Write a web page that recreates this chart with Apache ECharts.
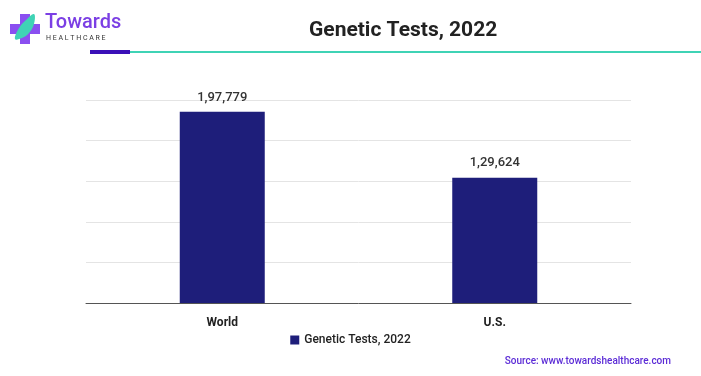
<!doctype html>
<html lang="en">
<head>
<meta charset="UTF-8">
<script src="https://cdn.jsdelivr.net/npm/echarts@6/dist/echarts.min.js"></script>
<title>Genetic Tests, 2022</title>
<style>
  html, body { margin: 0; padding: 0; background: #fff; }
  #chart { width: 701px; height: 376px; }
</style>
</head>
<body>
<div id="chart"></div>
<script>
// data
var categories = ['World', 'U.S.'];
var seriesName = 'Genetic Tests, 2022';
var values = [197779, 129624];

// indian style grouping, 1,97,779
function fmtIN(n) {
    var s = String(n);
    if (s.length <= 3) return s;
    var last3 = s.slice(-3);
    var rest = s.slice(0, -3);
    rest = rest.replace(/\B(?=(\d{2})+(?!\d))/g, ',');
    return rest + ',' + last3;
}

var chart = echarts.init(document.getElementById('chart'));

var option = {
    backgroundColor: '#fff',
    animation: false,
    textStyle: { fontFamily: 'Roboto' },
    title: {
        text: 'Genetic Tests, 2022',
        left: 304,
        top: 15,
        textStyle: { fontSize: 21, fontWeight: 'bold', color: '#222' }
    },
    grid: { left: 86, right: 70, top: 100, bottom: 73, containLabel: false },
    legend: {
        bottom: 25,
        left: 'center',
        itemWidth: 9,
        itemHeight: 9,
        icon: 'rect',
        textStyle: { fontSize: 12, fontWeight: 500, color: '#222' },
        data: [seriesName]
    },
    xAxis: {
        type: 'category',
        data: categories,
        axisLine: { lineStyle: { color: '#555', width: 1 } },
        axisTick: { show: false },
        axisLabel: { fontSize: 12, fontWeight: 'bold', color: '#222', margin: 14 }
    },
    yAxis: {
        type: 'value',
        min: 0,
        max: 210000,
        interval: 42000,
        axisLabel: { show: false },
        axisLine: { show: false },
        axisTick: { show: false },
        splitLine: { lineStyle: { color: '#e4e4e4' } }
    },
    series: [{
        name: seriesName,
        type: 'bar',
        data: values,
        barWidth: 85,
        itemStyle: { color: '#1e1e7a' },
        label: {
            show: true,
            position: 'top',
            distance: 8,
            fontSize: 13,
            fontWeight: 500,
            color: '#333',
            formatter: function (p) { return fmtIN(p.value); }
        }
    }],
    graphic: [
        // logo cross
        { type: 'rect', shape: { x: 10, y: 24, width: 30, height: 10 }, style: { fill: '#8a4ff0' } },
        { type: 'rect', shape: { x: 20, y: 14, width: 10, height: 30 }, style: { fill: '#8a4ff0' } },
        { type: 'polygon', shape: { points: [[15, 39], [19, 28], [26, 20], [34, 14], [34, 24], [29, 33], [22, 38]], smooth: 0.4 }, style: { fill: '#3fd3b5' } },
        { type: 'text', left: 45, top: 13, style: { text: 'Towards', fontSize: 20, fontWeight: 500, fill: '#7b3fe4', fontFamily: 'Roboto' } },
        { type: 'text', left: 46, top: 35, style: { text: 'H E A L T H C A R E', fontSize: 7, fill: '#333', fontFamily: 'Roboto' } },
        // header lines
        { type: 'rect', shape: { x: 90, y: 50, width: 40, height: 4 }, style: { fill: '#3a10b8' } },
        { type: 'rect', shape: { x: 130, y: 51, width: 571, height: 2 }, style: { fill: '#3fd3b5' } },
        // source
        { type: 'text', right: 30, bottom: 10, style: { text: 'Source: www.towardshealthcare.com', fontSize: 10, fontWeight: 500, fill: '#5b2bd6', fontFamily: 'Roboto' } }
    ]
};

chart.setOption(option);
</script>
</body>
</html>
